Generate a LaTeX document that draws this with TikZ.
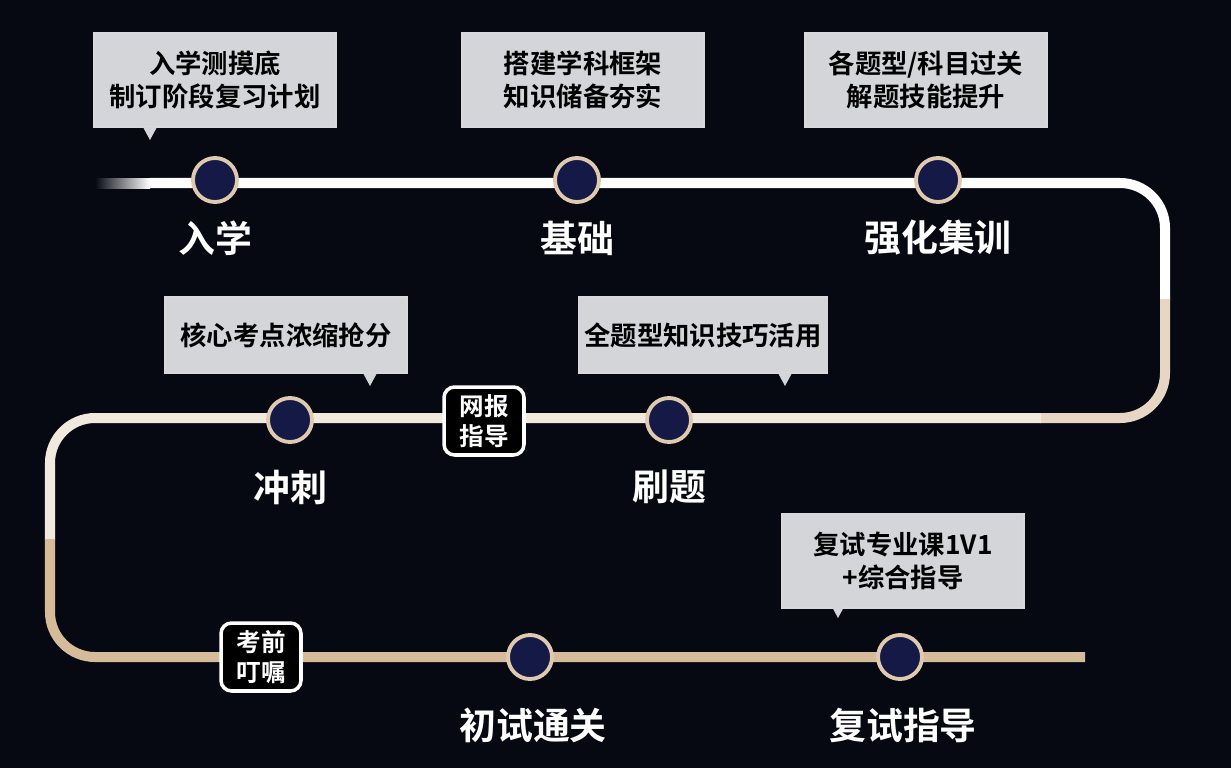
\documentclass[tikz,border=0pt]{standalone}
\usepackage{fontspec}
\setmainfont{Noto Sans CJK SC Bold}
\definecolor{bg}{HTML}{060912}
\definecolor{gold}{HTML}{C9A57A}
\definecolor{navy}{HTML}{141A45}
\definecolor{boxg}{HTML}{D4D5D9}
\begin{document}
\begin{tikzpicture}[x=0.02cm,y=-0.02cm,
  stop/.style={circle,draw=gold!60!white,line width=2.2pt,fill=navy,minimum size=0.88cm,inner sep=0},
  lab/.style={text=white,font=\fontsize{21}{24}\selectfont},
  box/.style={fill=boxg,draw=white!85!black,line width=0.8pt,text=black,font=\fontsize{15}{19}\selectfont,align=center,minimum height=1.88cm,minimum width=4.84cm},
  box2/.style={box,minimum height=1.52cm},
  badge/.style={draw=white,line width=2pt,fill=black,rounded corners=6pt,text=white,font=\fontsize{14}{17}\selectfont,align=center,minimum width=1.6cm,minimum height=1.36cm,inner sep=1pt},
  trk/.style={line width=5.7pt,rounded corners=0.9cm}]
\fill[bg] (0,0) rectangle (1231,768);
\useasboundingbox (0,0) rectangle (1231,768);
% track
\shade[left color=bg,right color=white] (95,178) rectangle (150,188);
\draw[trk,white] (150,183) -- (1165,183) -- (1165,300);
\draw[trk,gold!45!white] (1165,299) -- (1165,418) -- (1040,418);
\draw[trk,gold!25!white] (1041,418) -- (50,418) -- (50,540);
\draw[trk,gold!75!white] (50,539) -- (50,657) -- (1085,657);
% boxes
\node[box] (b1) at (215,80) {入学测摸底\\制订阶段复习计划};
\node[box] (b2) at (583,80) {搭建学科框架\\知识储备夯实};
\node[box] (b3) at (926,80) {各题型/科目过关\\解题技能提升};
\node[box2] (b4) at (286,335) {核心考点浓缩抢分};
\node[box2] (b5) at (703,335) {全题型知识技巧活用};
\node[box] (b6) at (903,561) {复试专业课1V1\\+综合指导};
\fill[boxg] (143,127) -- (157,127) -- (150,140) -- cycle;
\fill[boxg] (363,373) -- (377,373) -- (370,386) -- cycle;
\fill[boxg] (778,373) -- (792,373) -- (785,386) -- cycle;
\fill[boxg] (831,605) -- (845,605) -- (838,618) -- cycle;
% stops
\node[stop] (s1) at (215,180) {};
\node[stop] (s2) at (577,180) {};
\node[stop] (s3) at (938,180) {};
\node[stop] (s4) at (290,420) {};
\node[stop] (s5) at (669,420) {};
\node[stop] (s6) at (530,657) {};
\node[stop] (s7) at (900,657) {};
\node[lab] (l1) at (215,238) {入学};
\node[lab] (l2) at (577,238) {基础};
\node[lab] (l3) at (938,238) {强化集训};
\node[lab] (l4) at (290,487) {冲刺};
\node[lab] (l5) at (669,487) {刷题};
\node[lab] (l6) at (533,725) {初试通关};
\node[lab] (l7) at (903,725) {复试指导};
\node[badge] (g1) at (484,421) {网报\\指导};
\node[badge] (g2) at (261,657) {考前\\叮嘱};
\end{tikzpicture}
\end{document}
